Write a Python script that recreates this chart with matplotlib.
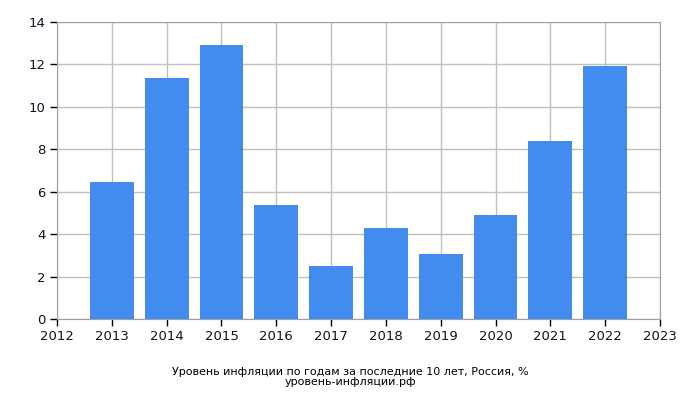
import matplotlib
matplotlib.use("Agg")
import matplotlib.pyplot as plt

years = [2013, 2014, 2015, 2016, 2017, 2018, 2019, 2020, 2021, 2022]
inflation = [6.45, 11.36, 12.91, 5.38, 2.52, 4.27, 3.05, 4.91, 8.39, 11.94]
xticks = list(range(2012, 2024))
yticks = [0, 2, 4, 6, 8, 10, 12, 14]
caption = "Уровень инфляции по годам за последние 10 лет, Россия, %\nуровень-инфляции.рф"

fig = plt.figure(figsize=(7, 4), dpi=100)
ax = fig.add_axes([57/700, 81/400, 603/700, 297/400])
ax.bar(years, inflation, width=0.8, color="#428bef", zorder=3)
ax.set_xlim(2012, 2023)
ax.set_ylim(0, 14)
ax.set_xticks(xticks)
ax.set_yticks(yticks)
ax.grid(True, color="#c0c0c0", linewidth=1, zorder=0)
for s in ax.spines.values():
    s.set_color("#a0a0a0")
ax.tick_params(direction="out", length=5, width=1, color="black", labelsize=9.5, pad=3, labelcolor="#111122")
fig.text(0.5, 0.0575, caption, ha="center", va="center", fontsize=8, linespacing=1.0)
fig.savefig("out.png", dpi=100)
